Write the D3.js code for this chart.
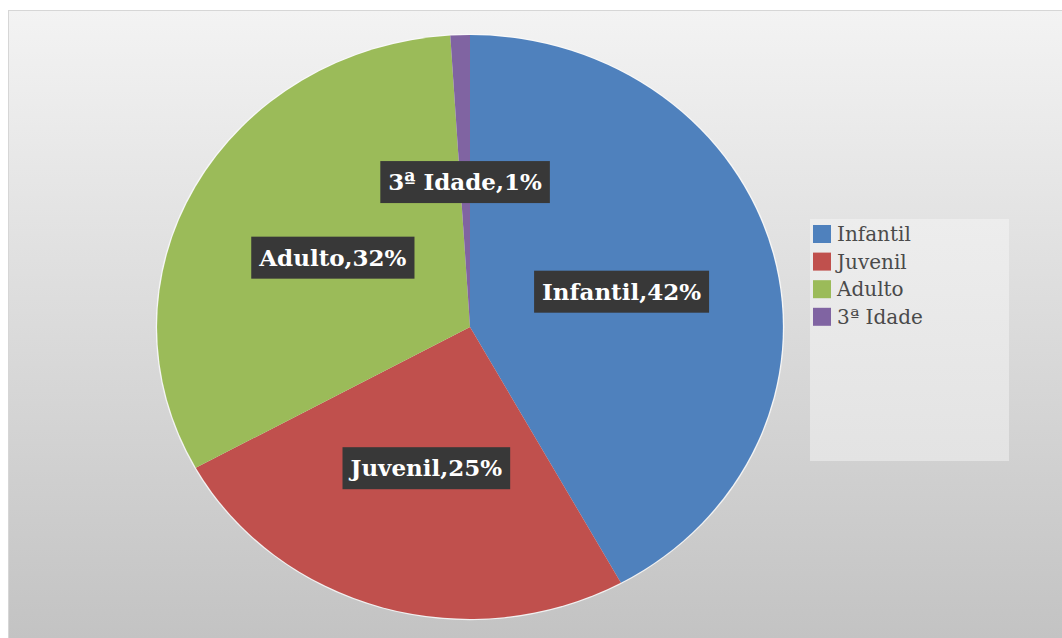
<!DOCTYPE html>
<html>
<head>
<meta charset="utf-8">
<script src="https://cdn.jsdelivr.net/npm/d3@7"></script>
<style>
  body { margin: 0; background: #fff; }
  svg { display: block; }
</style>
</head>
<body>
<svg id="chart" width="1062" height="638"></svg>
<script>
// data
var categories = ["Infantil", "Juvenil", "Adulto", "3ª Idade"];
var values = [42, 25, 32, 1];
var colors = ["#4f81bd", "#c0504d", "#9bbb59", "#8064a2"];

var svg = d3.select("#chart"),
    width = 1062,
    height = 638,
    cx = 470, cy = 327,
    rx = 313, ry = 292;

var defs = svg.append("defs");
var grad = defs.append("linearGradient")
    .attr("id", "bg").attr("x1", 0).attr("y1", 0).attr("x2", 0).attr("y2", 1);
grad.append("stop").attr("offset", "0%").attr("stop-color", "#f3f3f3");
grad.append("stop").attr("offset", "100%").attr("stop-color", "#c3c3c3");

var lg = defs.append("linearGradient")
    .attr("id", "lbg").attr("x1", 0).attr("y1", 0).attr("x2", 0).attr("y2", 1);
lg.append("stop").attr("offset", "0%").attr("stop-color", "#ededed");
lg.append("stop").attr("offset", "100%").attr("stop-color", "#e3e3e3");

// chart area
svg.append("rect")
    .attr("x", 8.5).attr("y", 10.5)
    .attr("width", width - 8).attr("height", height - 10)
    .attr("fill", "url(#bg)")
    .attr("stroke", "#d6d6d6");

var pie = d3.pie().sort(null).value(function (d) { return d; });
var arcs = pie(values);
var arc = d3.arc().innerRadius(0).outerRadius(1);

var g = svg.append("g")
    .attr("transform", "translate(" + cx + "," + cy + ") scale(" + rx + "," + ry + ")");

g.append("ellipse")
    .attr("rx", 1.004).attr("ry", 1.004)
    .attr("fill", "#fbfbfb").attr("opacity", 0.8);

g.selectAll("path")
    .data(arcs)
    .enter().append("path")
    .attr("d", arc)
    .attr("fill", function (d, i) { return colors[i]; });

// data labels, at the arc centroid (half radius)
var labels = svg.append("g").selectAll("g.lbl")
    .data(arcs)
    .enter().append("g")
    .attr("class", "lbl")
    .attr("transform", function (d) {
        var c = arc.centroid(d);
        return "translate(" + (cx + c[0] * rx) + "," + (cy + c[1] * ry + 1) + ")";
    });

labels.append("rect").attr("fill", "#383838");

labels.append("text")
    .attr("text-anchor", "middle")
    .attr("dy", "0.36em")
    .attr("fill", "#fff")
    .style("font-family", "'DejaVu Serif', serif")
    .style("font-weight", "bold")
    .style("font-size", "23px")
    .text(function (d, i) { return categories[i] + "," + values[i] + "%"; });

labels.each(function () {
    var t = d3.select(this).select("text");
    var w = t.node().getComputedTextLength() + 16;
    d3.select(this).select("rect")
        .attr("x", -w / 2).attr("y", -21)
        .attr("width", w).attr("height", 42);
});

// legend
var legend = svg.append("g");
legend.append("rect")
    .attr("x", 810).attr("y", 219)
    .attr("width", 199).attr("height", 242)
    .attr("fill", "url(#lbg)");

var item = legend.selectAll("g.item")
    .data(categories)
    .enter().append("g")
    .attr("class", "item")
    .attr("transform", function (d, i) { return "translate(813," + (234 + i * 27.6) + ")"; });

item.append("rect")
    .attr("x", 0).attr("y", -9)
    .attr("width", 18).attr("height", 18)
    .attr("fill", function (d, i) { return colors[i]; });

item.append("text")
    .attr("x", 24)
    .attr("dy", "0.35em")
    .attr("fill", "#4a4a4a")
    .style("font-family", "'DejaVu Serif', serif")
    .style("font-size", "20px")
    .text(function (d) { return d; });
</script>
</body>
</html>
